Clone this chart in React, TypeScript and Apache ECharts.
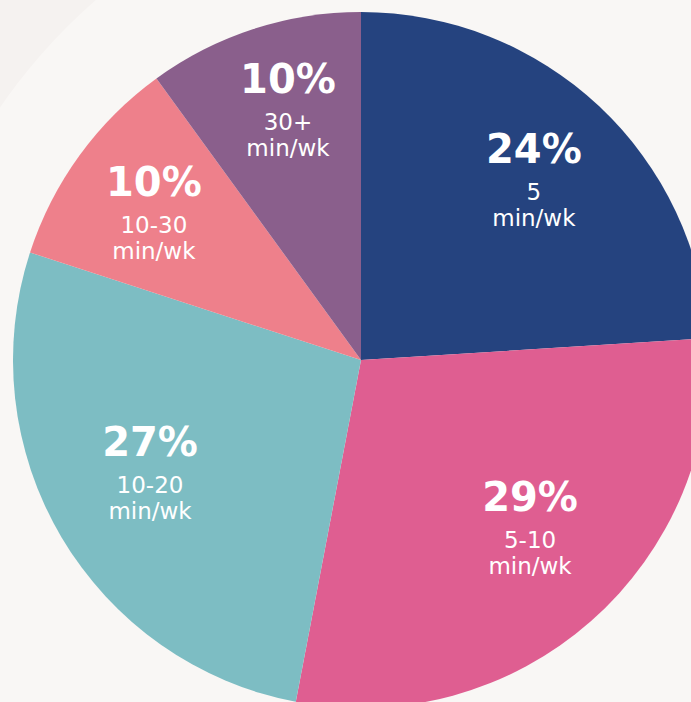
import React, { useEffect, useRef } from "react";
import * as echarts from "echarts";

const shares = [24, 29, 27, 10, 10];
const ranges = ["5", "5-10", "10-20", "10-30", "30+"];
const unit = "min/wk";
const colors = ["#25437f", "#df5e91", "#7dbdc3", "#ee808b", "#8a5f8c"];

// pie geometry (px)
const CX = 361;
const CY = 360;
const R = 348;
// label anchors per slice: angle clockwise from 12 o'clock (deg), distance from centre (px)
const LABEL_ANGLE = [43.1, 134.0, 242.9, 306.3, 344.0];
const LABEL_DIST = [253, 235, 237, 257, 265];

export default function App() {
  const ref = useRef<HTMLDivElement>(null);

  useEffect(() => {
    document.body.style.margin = "0";
    const chart = echarts.init(ref.current!, null, { renderer: "svg" });
    const data = shares.map((v, i) => ({
      value: v,
      name: `${ranges[i]} ${unit}`,
      itemStyle: { color: colors[i] },
    }));

    chart.setOption({
      animation: false,
      backgroundColor: "#f5f2f0",
      series: [
        {
          // soft backdrop disc behind the pie
          type: "pie",
          silent: true,
          center: [470, 430],
          radius: [0, 570],
          label: { show: false },
          labelLine: { show: false },
          itemStyle: { color: "#f9f7f5" },
          data: [{ value: 1, name: "" }],
        },
        {
          type: "pie",
          center: [CX, CY],
          radius: [0, R],
          startAngle: 90,
          clockwise: true,
          silent: true,
          labelLine: { show: false },
          label: {
            show: true,
            position: "inside",
            formatter: (p: any) =>
              `{p|${p.value}%}\n{s|${ranges[p.dataIndex]}}\n{s|${unit}}`,
            rich: {
              p: {
                fontFamily: "DejaVu Sans",
                fontWeight: "bold",
                fontSize: 40,
                color: "#ffffff",
                lineHeight: 60,
              },
              s: {
                fontFamily: "DejaVu Sans",
                fontWeight: "normal",
                fontSize: 23,
                color: "#ffffff",
                lineHeight: 26,
              },
            },
          },
          labelLayout: (params: any) => {
            const i = params.dataIndex;
            const a = (LABEL_ANGLE[i] * Math.PI) / 180;
            return {
              x: CX + LABEL_DIST[i] * Math.sin(a),
              y: CY - LABEL_DIST[i] * Math.cos(a),
              align: "center",
              verticalAlign: "middle",
            };
          },
          data,
        },
      ],
    });
    return () => chart.dispose();
  }, []);

  return <div ref={ref} style={{ width: 691, height: 702 }} />;
}
